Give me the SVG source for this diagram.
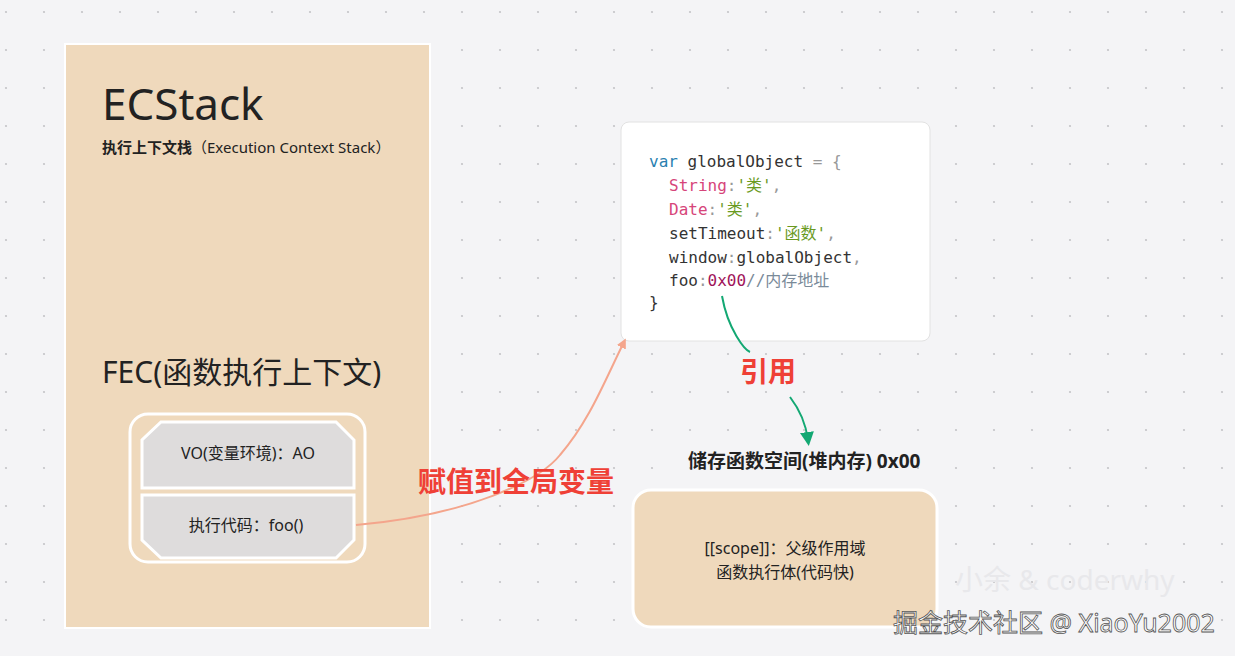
<svg xmlns="http://www.w3.org/2000/svg" width="1235" height="656" viewBox="0 0 1235 656">
<defs>
<pattern id="dots" width="38" height="38" patternUnits="userSpaceOnUse" x="4" y="10"><circle cx="2" cy="2" r="1.1" fill="#c4c4c8"/></pattern>
<marker id="ao" markerWidth="10" markerHeight="10" refX="6" refY="5" orient="auto" markerUnits="userSpaceOnUse"><path d="M0,0 L10,5 L0,10 z" fill="#f4a58c"/></marker>
<marker id="ag" markerWidth="14" markerHeight="14" refX="8" refY="7" orient="auto" markerUnits="userSpaceOnUse"><path d="M0,0 L14,7 L0,14 z" fill="#13a873"/></marker>
<style>
text{font-family:"Noto Sans","Noto Sans CJK SC",sans-serif;fill:#222}
.code text,.code{font-family:"DejaVu Sans Mono","Noto Sans CJK SC",monospace;font-size:16px;fill:#333}
.oct{fill:#dedcdc;stroke:#fff;stroke-width:3}
.red{font-weight:bold;font-size:28px;fill:#ef4036}
</style>
</defs>
<rect width="1235" height="656" fill="#f4f4f6"/>
<rect width="1235" height="656" fill="url(#dots)"/>
<g id="ecstack">
<rect x="65" y="44" width="365" height="584" fill="#efd9bc" stroke="#fff" stroke-width="2"/>
<text x="102" y="120" font-size="44">ECStack</text>
<text x="102" y="153" font-size="15" font-weight="bold">执行上下文栈<tspan font-weight="normal">（Execution Context Stack）</tspan></text>
<text x="102" y="383" font-size="30">FEC(函数执行上下文)</text>
</g>
<g id="fec">
<rect x="130" y="414" width="235" height="148" rx="18" fill="none" stroke="#fff" stroke-width="3"/>
<polygon class="oct" points="161,422 336,422 354,440 354,488 142,488 142,440"/>
<text x="248" y="459" font-size="16" text-anchor="middle">VO(变量环境)：AO</text>
<polygon class="oct" points="142,495 354,495 354,540 336,558 161,558 142,540"/>
<text x="246" y="531" font-size="16" text-anchor="middle">执行代码：foo()</text>
</g>
<g id="code">
<rect x="621" y="122" width="309" height="219" rx="8" fill="#fff" stroke="#e2e2e2"/>
<text class="code" x="649" y="167"><tspan fill="#2a7fb0">var</tspan> globalObject <tspan fill="#999">= {</tspan></text>
<text class="code" x="669" y="191"><tspan fill="#d6457a">String</tspan><tspan fill="#999">:</tspan><tspan fill="#6a9a1f">'类'</tspan><tspan fill="#999">,</tspan></text>
<text class="code" x="669" y="215"><tspan fill="#d6457a">Date</tspan><tspan fill="#999">:</tspan><tspan fill="#6a9a1f">'类'</tspan><tspan fill="#999">,</tspan></text>
<text class="code" x="669" y="239">setTimeout<tspan fill="#999">:</tspan><tspan fill="#6a9a1f">'函数'</tspan><tspan fill="#999">,</tspan></text>
<text class="code" x="669" y="263">window<tspan fill="#999">:</tspan>globalObject<tspan fill="#999">,</tspan></text>
<text class="code" x="669" y="286">foo<tspan fill="#999">:</tspan><tspan fill="#a0145a">0x00</tspan><tspan fill="#7a8a99">//内存地址</tspan></text>
<text class="code" x="649" y="308" fill="#999">}</text>
</g>
<g id="heap">
<text x="688" y="468" font-size="19" font-weight="bold">储存函数空间(堆内存) 0x00</text>
<rect x="633" y="490" width="304" height="137" rx="18" fill="#efd9bc" stroke="#fff" stroke-width="3"/>
<text x="785" y="554" font-size="16" text-anchor="middle">[[scope]]：父级作用域</text>
<text x="785" y="578" font-size="16" text-anchor="middle">函数执行体(代码快)</text>
</g>
<g id="connectors" fill="none">
<path d="M356,525 C470,515 540,480 560,455 C590,420 605,380 624,342" stroke="#f4a58c" stroke-width="2" marker-end="url(#ao)"/>
<path d="M722,296 C728,330 745,350 750,352" stroke="#13a873" stroke-width="2"/>
<path d="M790,397 C800,410 806,425 808,440" stroke="#13a873" stroke-width="2" marker-end="url(#ag)"/>
</g>
<text class="red" x="418" y="492">赋值到全局变量</text>
<text class="red" x="740" y="382">引用</text>
<text x="955" y="590" font-size="28" style="fill:#e8e8eb">小余 &amp; coderwhy</text>
<text x="893" y="632" font-size="25" style="fill:#fff" stroke="#555" stroke-width="0.8">掘金技术社区 @ XiaoYu2002</text>
</svg>
